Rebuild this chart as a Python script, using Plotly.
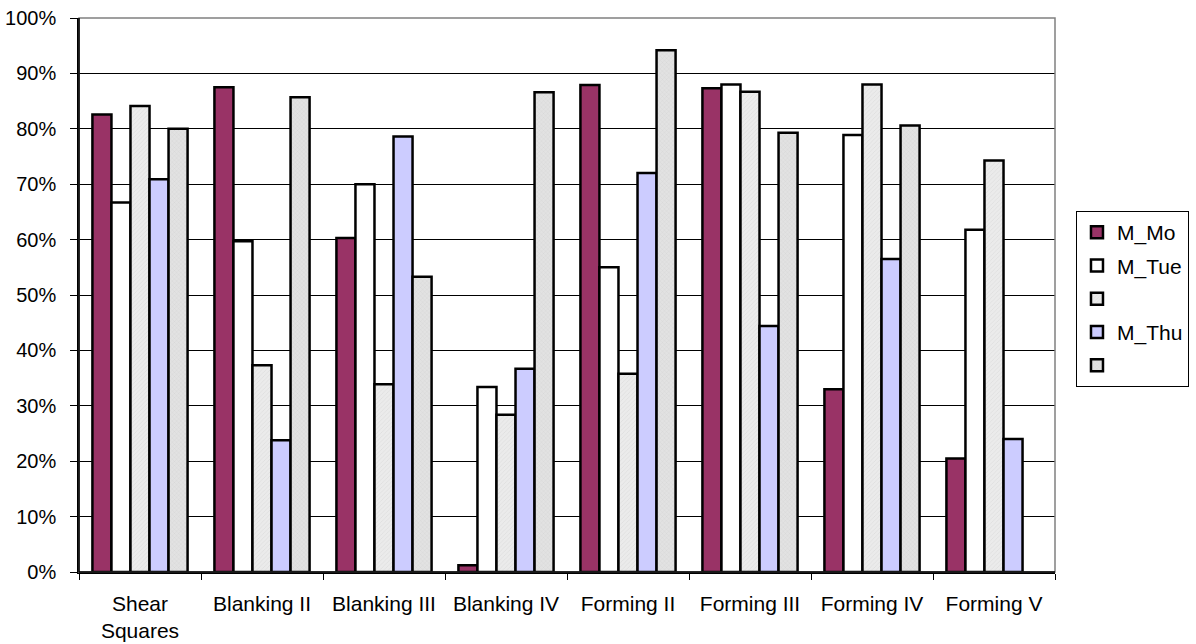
import plotly.graph_objects as go

categories = ["Shear<br>Squares", "Blanking II", "Blanking III", "Blanking IV",
              "Forming II", "Forming III", "Forming IV", "Forming V"]

m_mo = [0.826, 0.875, 0.603, 0.012, 0.879, 0.873, 0.330, 0.205]
m_tue = [0.667, 0.597, 0.700, 0.334, 0.550, 0.880, 0.789, 0.618]
m_wed = [0.841, 0.373, 0.339, 0.284, 0.358, 0.867, 0.880, 0.743]
m_thu = [0.709, 0.238, 0.786, 0.367, 0.720, 0.444, 0.565, 0.240]
m_fri = [0.800, 0.857, 0.533, 0.866, 0.942, 0.793, 0.806, None]

series = [
    ("M_Mo", m_mo, dict(color="#993366")),
    ("M_Tue", m_tue, dict(color="#FFFFFF")),
    (" ", m_wed, dict(color="#EBEBEB",
                      pattern=dict(shape="/", size=3, solidity=0.25,
                                   fgcolor="#CFCFCF", bgcolor="#EBEBEB"))),
    ("M_Thu", m_thu, dict(color="#CCCCFF")),
    ("  ", m_fri, dict(color="#E2E2E2",
                       pattern=dict(shape="x", size=3, solidity=0.25,
                                    fgcolor="#C6C6C6", bgcolor="#E2E2E2"))),
]

FONT = "Liberation Sans, Arial, sans-serif"
FS = 21

fig = go.Figure()
for i, (name, vals, marker) in enumerate(series):
    marker = dict(marker)
    marker["line"] = dict(color="#000000", width=2.5)
    fig.add_trace(go.Bar(
        x=categories, y=vals, name=name, marker=marker,
        legendgroup=f"g{i}",
    ))

fig.update_layout(
    width=1196, height=644,
    margin=dict(l=79, r=141, t=18, b=72, autoexpand=False),
    paper_bgcolor="#FFFFFF", plot_bgcolor="#FFFFFF",
    barmode="group", bargap=0.22, bargroupgap=0,
    font=dict(family=FONT, size=FS, color="#000000"),
    showlegend=True,
    legend=dict(
        x=1.0215, y=0.6516, xanchor="left", yanchor="top",
        bgcolor="#FFFFFF", bordercolor="#000000", borderwidth=1,
        itemwidth=30, tracegroupgap=3, traceorder="grouped",
        font=dict(family=FONT, size=FS, color="#000000"),
    ),
    xaxis=dict(
        type="category", showgrid=False, automargin=False,
        showline=True, linecolor="#000000", linewidth=1.5,
        ticks="outside", tickson="boundaries", ticklen=6,
        tickcolor="#000000", tickwidth=1,
        ticklabelstandoff=12,
        tickfont=dict(family=FONT, size=FS),
    ),
    yaxis=dict(
        range=[0, 1], tick0=0, dtick=0.1, tickformat=".0%",
        showgrid=True, gridcolor="#000000", gridwidth=1,
        zeroline=False, automargin=False,
        showline=True, linecolor="#000000", linewidth=1.5,
        ticks="outside", ticklen=7, tickcolor="#000000", tickwidth=1,
        ticklabelstandoff=10,
        tickfont=dict(family=FONT, size=20),
    ),
)

# gray frame around the plotting area (top and right edges)
fig.add_shape(type="rect", xref="paper", yref="paper", x0=0, y0=0, x1=1, y1=1,
              line=dict(color="#808080", width=1.5), layer="above")
fig.add_shape(type="line", xref="paper", yref="paper", x0=0, y0=0, x1=0, y1=1,
              line=dict(color="#000000", width=1.5), layer="above")
fig.add_shape(type="line", xref="paper", yref="paper", x0=0, y0=0, x1=1, y1=0,
              line=dict(color="#000000", width=1.5), layer="above")

fig.write_html("out.html")
